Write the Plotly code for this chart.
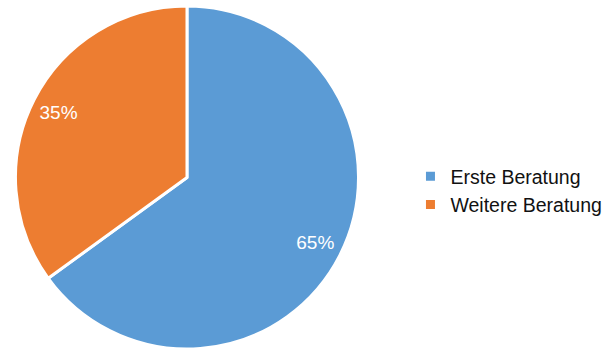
import plotly.graph_objects as go

labels = ["Erste Beratung", "Weitere Beratung"]
values = [65, 35]
colors = ["#5B9BD5", "#ED7D31"]

FONT = "Liberation Sans, Arial, sans-serif"
pie_domain = dict(x=[0.0254, 0.5887], y=[0.0, 0.983])

fig = go.Figure()

# filled pie with white separators
fig.add_trace(
    go.Pie(
        labels=labels,
        values=values,
        sort=False,
        direction="clockwise",
        rotation=0,
        marker=dict(colors=colors, line=dict(color="white", width=3)),
        textinfo="none",
        domain=pie_domain,
        hoverinfo="label+percent",
    )
)

# transparent ring on top that carries the percentage labels near the rim
fig.add_trace(
    go.Pie(
        labels=labels,
        values=values,
        sort=False,
        direction="clockwise",
        rotation=0,
        hole=0.68,
        marker=dict(colors=["rgba(0,0,0,0)"] * len(values), line=dict(width=0)),
        texttemplate="%{percent:.0%}",
        textposition="inside",
        insidetextorientation="horizontal",
        textfont=dict(color="white", size=19, family=FONT),
        domain=pie_domain,
        hoverinfo="skip",
        showlegend=False,
    )
)

fig.update_layout(
    width=609,
    height=349,
    margin=dict(l=0, r=0, t=0, b=0, autoexpand=False),
    paper_bgcolor="white",
    plot_bgcolor="white",
    font=dict(family=FONT, size=19.5, color="#111111"),
    showlegend=True,
    legend=dict(
        x=0.674,
        y=0.454,
        xanchor="left",
        yanchor="middle",
        font=dict(size=19.5, color="#111111", family=FONT),
        itemwidth=30,
        traceorder="normal",
        bgcolor="rgba(0,0,0,0)",
    ),
)

fig.write_html("out.html")
